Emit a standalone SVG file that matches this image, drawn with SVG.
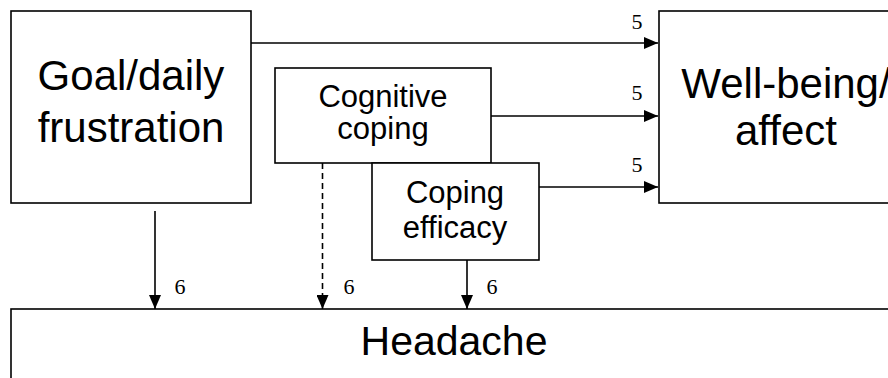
<svg xmlns="http://www.w3.org/2000/svg" width="888" height="378" viewBox="0 0 888 378">
<style>
.box{fill:#fff;stroke:#000;stroke-width:1.6}
.big{font-family:"Liberation Sans",Arial,sans-serif;font-size:42px;fill:#000;text-anchor:middle}
.mid{font-family:"Liberation Sans",Arial,sans-serif;font-size:31px;fill:#000;text-anchor:middle}
.num{font-family:"Liberation Serif","Times New Roman",serif;font-size:22px;fill:#000;text-anchor:middle}
.ln{stroke:#000;stroke-width:1.6;fill:none}
</style>
<defs>
<marker id="ah" viewBox="0 0 14 12" refX="14" refY="6" markerWidth="14" markerHeight="12" markerUnits="userSpaceOnUse" orient="auto">
<path d="M0,0 L14,6 L0,12 Z" fill="#000"/>
</marker>
</defs>
<rect width="888" height="378" fill="#fff"/>
<g id="goal">
<rect class="box" x="11" y="11" width="240" height="192"/>
<text class="big" x="131" y="90">Goal/daily</text>
<text class="big" x="131" y="142">frustration</text>
</g>
<g id="wellbeing">
<rect class="box" x="659" y="11" width="260" height="192"/>
<text class="big" x="786" y="98">Well-being/</text>
<text class="big" x="786" y="145">affect</text>
</g>
<g id="headache">
<rect class="box" x="11" y="309" width="890" height="90"/>
<text class="big" x="454" y="355" style="font-size:41px">Headache</text>
</g>
<g id="connectors">
<line class="ln" x1="251" y1="43" x2="658" y2="43" marker-end="url(#ah)"/>
<line class="ln" x1="491" y1="116" x2="658" y2="116" marker-end="url(#ah)"/>
<line class="ln" x1="539" y1="187" x2="658" y2="187" marker-end="url(#ah)"/>
<line class="ln" x1="155" y1="211" x2="155" y2="309" marker-end="url(#ah)"/>
<line class="ln" x1="322.5" y1="163" x2="322.5" y2="309" stroke-dasharray="6,4" marker-end="url(#ah)"/>
<line class="ln" x1="467" y1="260" x2="467" y2="309" marker-end="url(#ah)"/>
<text class="num" x="637" y="29">5</text>
<text class="num" x="637" y="100">5</text>
<text class="num" x="637" y="172">5</text>
<text class="num" x="180" y="294">6</text>
<text class="num" x="349" y="294">6</text>
<text class="num" x="492" y="294">6</text>
</g>
<g id="cognitive">
<rect class="box" x="275" y="68" width="216" height="95"/>
<text class="mid" x="383" y="107">Cognitive</text>
<text class="mid" x="383" y="139">coping</text>
</g>
<g id="efficacy">
<rect class="box" x="372" y="163" width="167" height="97"/>
<text class="mid" x="455" y="203">Coping</text>
<text class="mid" x="455" y="238">efficacy</text>
</g>
</svg>
